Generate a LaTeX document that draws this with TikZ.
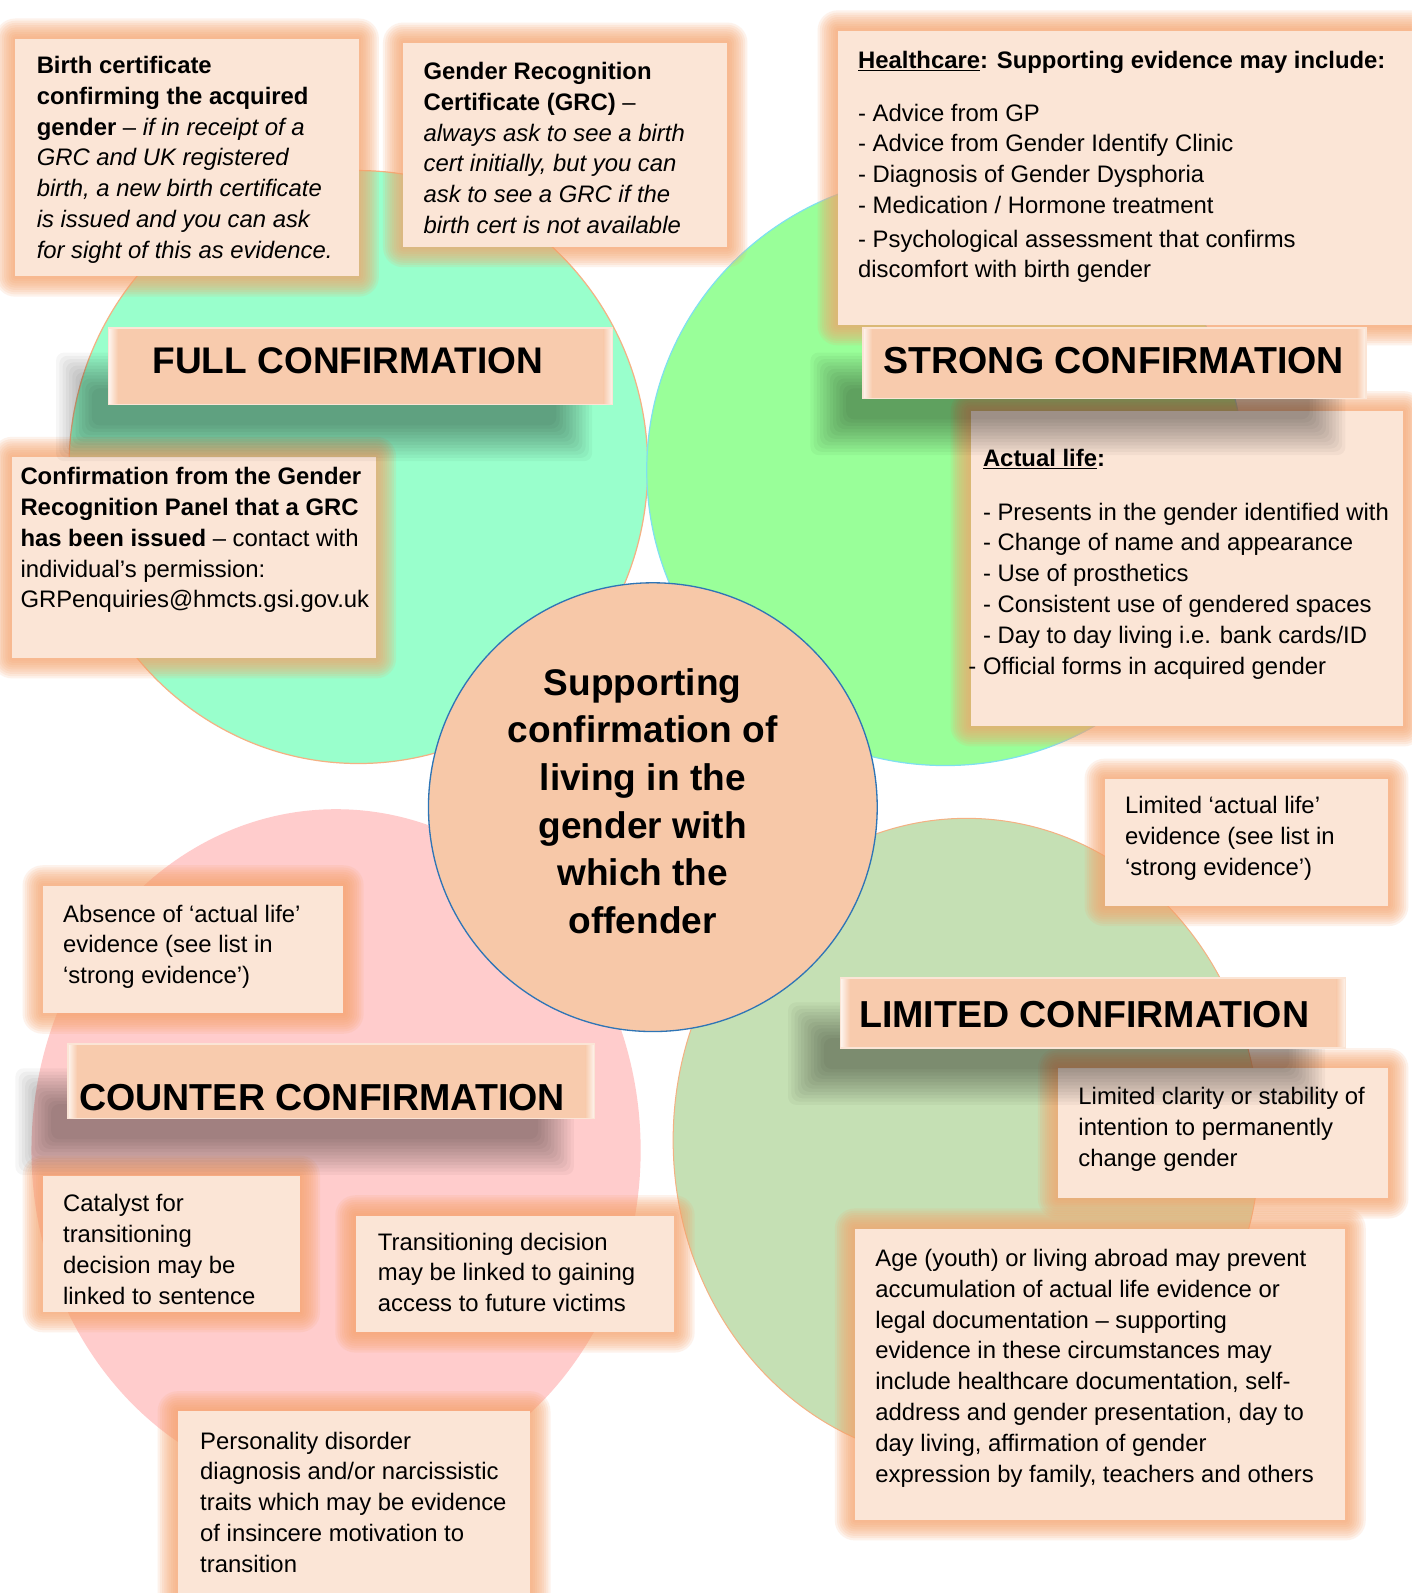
\documentclass[tikz,border=0pt]{standalone}
\usepackage{fontspec}
\setmainfont{Liberation Sans}
\usetikzlibrary{shapes.geometric,calc}
\definecolor{boxc}{HTML}{FBE5D6}
\definecolor{glowc}{HTML}{F7A26A}
\definecolor{bannerc}{HTML}{F8CBAD}
\definecolor{hubc}{HTML}{F7C8A8}
\definecolor{hubline}{HTML}{2E75B6}
\definecolor{mintc}{HTML}{99FFCC}
\definecolor{strongc}{HTML}{99FF99}
\definecolor{pinkc}{HTML}{FFCCCC}
\definecolor{limc}{HTML}{C5E0B4}
\definecolor{orline}{HTML}{F4B183}
\definecolor{cyanline}{HTML}{7FE0F0}
\pgfdeclarelayer{shapes}
\pgfdeclarelayer{glow}
\pgfsetlayers{shapes,glow,main}
\newcommand\bodyfont{\fontsize{23.5}{30.4}\selectfont}
\newcommand\fst{\rule{0pt}{19pt}}
\tikzset{
  txt/.style={anchor=north west,inner sep=0pt,align=left,font=\bodyfont},
  tbox/.style={anchor=north west,rectangle,fill=boxc,inner sep=0pt,draw=none},
  bannergeo/.style={anchor=north west,rectangle,inner sep=0pt,draw=none,fill=none},
  ttl/.style={anchor=base west,inner sep=0pt,font=\fontsize{37}{40}\selectfont\bfseries},
  zone/.style={ellipse,inner sep=0pt},
}
\newcommand\glowbox[1]{%
  \begin{pgfonlayer}{glow}%
  \foreach \gi in {1,...,9}{%
    \pgfmathsetmacro\gd{\gi*2.2}%
    \fill[glowc,fill opacity=0.135,rounded corners=\gd pt]
      ($(#1.north west)+(-\gd,-\gd)$) rectangle ($(#1.south east)+(\gd,\gd)$);
  }%
  \end{pgfonlayer}}
\newcommand\bshadow[1]{%
  \foreach \si in {1,...,12}{%
    \pgfmathsetmacro\sd{19-3.2*\si}%
    \pgfmathsetmacro\sax{-36-(\sd)}%
    \pgfmathsetmacro\say{40-(\sd)}%
    \pgfmathsetmacro\sbx{-36+(\sd)}%
    \pgfmathsetmacro\sby{40+(\sd)}%
    \fill[black,fill opacity=0.034,rounded corners=8pt]
      ($(#1.north west)+(\sax,\say)$) rectangle ($(#1.south east)+(\sbx,\sby)$);
  }}
\newcommand\bannerfill[1]{%
  \fill[bannerc] (#1.north west) rectangle (#1.south east);
  \shade[left color=white!80!bannerc,right color=bannerc] (#1.north west) rectangle ($(#1.south west)+(9,0)$);
  \shade[left color=bannerc,right color=white!80!bannerc] ($(#1.north east)+(-9,0)$) rectangle (#1.south east);
  \draw[white!50!bannerc,line width=1.5pt] (#1.north west) rectangle (#1.south east);}
\begin{document}
\begin{tikzpicture}[x=1pt,y=-1pt]
\useasboundingbox (0,0) rectangle (1390,1569);
\begin{pgfonlayer}{shapes}
\fill[white] (0,0) rectangle (1390,1569);
\node[zone,fill=mintc,draw=orline,line width=1.2pt,minimum width=570pt,minimum height=584pt] (full) at (353,460) {};
\node[zone,fill=strongc,draw=cyanline,line width=1.2pt,minimum width=588pt,minimum height=582pt] (strong) at (931,463) {};
\node[zone,fill=pinkc,minimum width=600pt,minimum height=672pt] (counter) at (331,1133) {};
\node[zone,fill=limc,draw=orline,line width=1pt,minimum width=578pt,minimum height=634pt] (limited) at (952,1123) {};
\node[circle,fill=hubc,draw=hubline,line width=1.3pt,minimum size=442pt,inner sep=0pt] (hub) at (643,795) {};
\end{pgfonlayer}

% text boxes
\node[tbox,minimum width=338pt,minimum height=234pt] (b1) at (15,38) {}; \glowbox{b1}
\node[tbox,minimum width=319pt,minimum height=201pt] (b2) at (397,42) {}; \glowbox{b2}
\node[tbox,minimum width=570pt,minimum height=290pt] (b3) at (825,30) {}; \glowbox{b3}
\node[tbox,minimum width=426pt,minimum height=310pt] (b4) at (956,405) {}; \glowbox{b4}
\node[tbox,minimum width=358pt,minimum height=198pt] (b5) at (12,450) {}; \glowbox{b5}
\node[tbox,minimum width=279pt,minimum height=125pt] (b6) at (1088,767) {}; \glowbox{b6}
\node[tbox,minimum width=296pt,minimum height=126pt] (b7) at (42,872) {}; \glowbox{b7}
\node[tbox,minimum width=325pt,minimum height=128pt] (b8) at (1042,1052) {}; \glowbox{b8}
\node[tbox,minimum width=253pt,minimum height=134pt] (b9) at (42,1158) {}; \glowbox{b9}
\node[tbox,minimum width=314pt,minimum height=115pt] (b10) at (350,1197) {}; \glowbox{b10}
\node[tbox,minimum width=347pt,minimum height=200pt] (b11) at (175,1390) {}; \glowbox{b11}
\node[tbox,minimum width=483pt,minimum height=287pt] (b12) at (842,1210) {}; \glowbox{b12}

% banners
\node[bannergeo,minimum width=496pt,minimum height=75pt] (fullB) at (107,323) {};
\node[bannergeo,minimum width=495pt,minimum height=69pt] (strongB) at (850,323) {};
\node[bannergeo,minimum width=497pt,minimum height=69pt] (limitedB) at (828,963) {};
\node[bannergeo,minimum width=518pt,minimum height=73pt] (counterB) at (67,1028) {};
\bshadow{fullB}\bannerfill{fullB}
\bshadow{strongB}\bannerfill{strongB}
\bshadow{limitedB}\bannerfill{limitedB}
\bshadow{counterB}\bannerfill{counterB}

\node[ttl,font=\fontsize{36.5}{40}\selectfont\bfseries] (fullT) at (150,368) {FULL CONFIRMATION};
\node[ttl] (strongT) at (870,368) {STRONG CONFIRMATION};
\node[ttl] (limitedT) at (846,1012) {LIMITED CONFIRMATION};
\node[ttl] (counterT) at (78,1094) {COUNTER CONFIRMATION};

% hub text
\node[inner sep=0pt,align=center,font=\fontsize{36.5}{47}\selectfont\bfseries] (hubT) at (633,789)
 {Supporting\\confirmation of\\living in the\\gender with\\which the\\offender};

% box texts
\node[txt] (t1) at (36,53) {\fst\textbf{Birth certificate}\\
\textbf{confirming the acquired}\\
\textbf{gender} – \textit{if in receipt of a}\\
\textit{GRC and UK registered}\\
\textit{birth, a new birth certificate}\\
\textit{is issued and you can ask}\\
\textit{for sight of this as evidence.}};

\node[txt] (t2) at (417,59) {\fst\textbf{Gender Recognition}\\
\textbf{Certificate (GRC)} –\\
\textit{always ask to see a birth}\\
\textit{cert initially, but you can}\\
\textit{ask to see a GRC if the}\\
\textit{birth cert is not available}};

\node[txt] (t3) at (845,48) {\fst\textbf{\underline{Healthcare}: Supporting evidence may include:}\\[21.6pt]
- Advice from GP\\
- Advice from Gender Identify Clinic\\
- Diagnosis of Gender Dysphoria\\
- Medication / Hormone treatment\\[2.5pt]
- Psychological assessment that confirms\\
discomfort with birth gender};

\node[txt] (t4) at (968,440) {\fst\textbf{\underline{Actual life}:}\\[22.6pt]
- Presents in the gender identified with\\
- Change of name and appearance\\
- Use of prosthetics\\
- Consistent use of gendered spaces\\
- Day to day living i.e. bank cards/ID\\
\llap{- }Official forms in acquired gender};

\node[txt] (t5) at (20,458) {\fst\textbf{Confirmation from the Gender}\\
\textbf{Recognition Panel that a GRC}\\
\textbf{has been issued} – contact with\\
individual’s permission:\\
GRPenquiries@hmcts.gsi.gov.uk};

\node[txt] (t6) at (1108,782) {\fst Limited ‘actual life’\\
evidence (see list in\\
‘strong evidence’)};

\node[txt] (t7) at (62,889) {\fst Absence of ‘actual life’\\
evidence (see list in\\
‘strong evidence’)};

\node[txt] (t8) at (1062,1069) {\fst Limited clarity or stability of\\
intention to permanently\\
change gender};

\node[txt] (t9) at (62,1174) {\fst Catalyst for\\
transitioning\\
decision may be\\
linked to sentence};

\node[txt] (t10) at (372,1212) {\fst Transitioning decision\\
may be linked to gaining\\
access to future victims};

\node[txt] (t11) at (197,1408) {\fst Personality disorder\\
diagnosis and/or narcissistic\\
traits which may be evidence\\
of insincere motivation to\\
transition};

\node[txt] (t12) at (862,1228) {\fst Age (youth) or living abroad may prevent\\
accumulation of actual life evidence or\\
legal documentation – supporting\\
evidence in these circumstances may\\
include healthcare documentation, self-\\
address and gender presentation, day to\\
day living, affirmation of gender\\
expression by family, teachers and others};
\end{tikzpicture}
\end{document}
